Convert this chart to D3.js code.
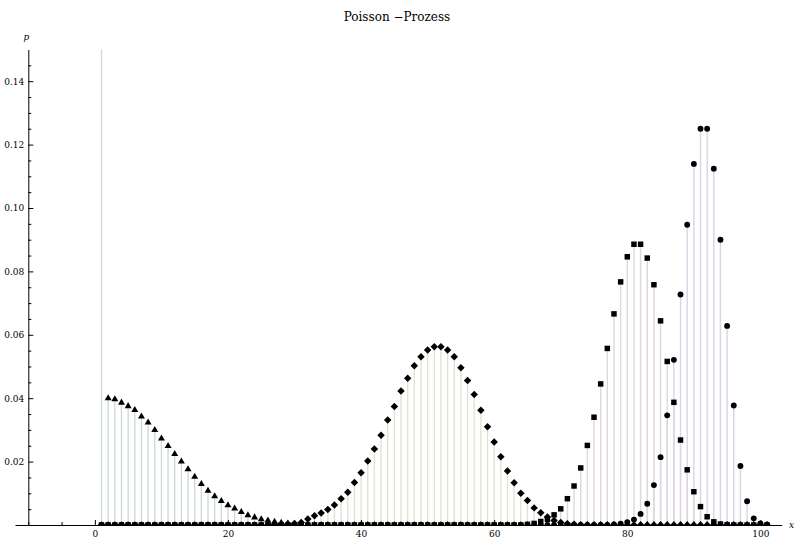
<!DOCTYPE html>
<html>
<head>
<meta charset="utf-8">
<script src="https://cdn.jsdelivr.net/npm/d3@7"></script>
<style>
  body { margin: 0; background: #fff; }
  .axis path, .axis line { stroke: #000; }
  .stem { stroke-width: 1.4; }
</style>
</head>
<body>
<div id="chart"></div>
<script>
'use strict';

// Support of the distributions: markers are drawn at every integer k in [kMin, kMax]
var kMin = 1;
var kMax = 101;

// Each series: first k, then p values (k outside the list sits on zero)
var triStart = 1;
var triP = [0.16, 0.0400, 0.0397, 0.0386, 0.0375, 0.0363, 0.0342, 0.0323, 0.0300, 0.0273,
  0.0249, 0.0224, 0.0200, 0.0176, 0.0152, 0.0129, 0.0108, 0.0091, 0.0076, 0.0062,
  0.0052, 0.0041, 0.0031, 0.0024, 0.0018, 0.0014, 0.0010, 0.0007, 0.0005, 0.0004,
  0.0003, 0.0002, 0.0001];

var diaStart = 27;
var diaP = [0.0001, 0.0002, 0.0003, 0.0005, 0.0008, 0.0019, 0.0029, 0.0038, 0.0049, 0.0063,
  0.0083, 0.0103, 0.0134, 0.0165, 0.0202, 0.0240, 0.0283, 0.0331, 0.0374, 0.0423,
  0.0463, 0.0502, 0.0531, 0.0552, 0.0562, 0.0562, 0.0552, 0.0531, 0.0496, 0.0456,
  0.0412, 0.0362, 0.0310, 0.0262, 0.0215, 0.0170, 0.0133, 0.0100, 0.0077, 0.0054,
  0.0039, 0.0025, 0.0014, 0.0008, 0.0004, 0.0002];

var sqStart = 65;
var sqP = [0.0002, 0.0005, 0.0011, 0.0018, 0.0032, 0.0051, 0.0083, 0.0123, 0.0180, 0.0251,
  0.0340, 0.0445, 0.0557, 0.0666, 0.0767, 0.0846, 0.0886, 0.0886, 0.0842, 0.0758,
  0.0644, 0.0516, 0.0387, 0.0268, 0.0174, 0.0105, 0.0058, 0.0026, 0.0010, 0.0003,
  0.0001];

var circStart = 78;
var circP = [0.0002, 0.0004, 0.0009, 0.0017, 0.0035, 0.0067, 0.0126, 0.0214, 0.0346, 0.0521,
  0.0727, 0.0947, 0.1139, 0.1250, 0.1250, 0.1124, 0.0900, 0.0628, 0.0377, 0.0186,
  0.0075, 0.0021, 0.0005, 0.0001];

// Axis ticks and labels
var xMajor = [0, 20, 40, 60, 80, 100];
var xMinor = [-10, -5, 5, 10, 15, 25, 30, 35, 45, 50, 55, 65, 70, 75, 85, 90, 95];
var yMajor = [0.02, 0.04, 0.06, 0.08, 0.10, 0.12, 0.14];
var yMinor = [0.005, 0.01, 0.015, 0.025, 0.03, 0.035, 0.045, 0.05, 0.055, 0.065, 0.07, 0.075,
  0.085, 0.09, 0.095, 0.105, 0.11, 0.115, 0.125, 0.13, 0.135, 0.145];
var titleText = 'Poisson \u2212Prozess';
var xLabel = 'x';
var yLabel = 'p';

// Layout
var width = 795;
var height = 542;
var plotLeft = 15, plotRight = 781.7, plotTop = 49.5, plotBottom = 525;
var serif = "'DejaVu Serif', serif";

var x = d3.scaleLinear().domain([-12, 103.2]).range([plotLeft, plotRight]);
var y = d3.scaleLinear().domain([0, 0.15]).range([plotBottom, plotTop]);

function fullSeries(start, values) {
  var out = [];
  for (var k = kMin; k <= kMax; k++) {
    var i = k - start;
    out.push([k, (i >= 0 && i < values.length) ? values[i] : 0]);
  }
  return out;
}

var series = [
  {id: 'circ', data: fullSeries(circStart, circP), stem: '#d6d5e6',
    symbol: d3.symbol().type(d3.symbolCircle).size(27), rotate: 0},
  {id: 'sq', data: fullSeries(sqStart, sqP), stem: '#e0d6df',
    symbol: d3.symbol().type(d3.symbolSquare).size(30), rotate: 0},
  {id: 'dia', data: fullSeries(diaStart, diaP), stem: '#e4e2d2',
    symbol: d3.symbol().type(d3.symbolSquare).size(28), rotate: 45},
  {id: 'tri', data: fullSeries(triStart, triP), stem: '#cfdbd6',
    symbol: d3.symbol().type(d3.symbolTriangle).size(21), rotate: 0}
];

var svg = d3.select('#chart').append('svg')
  .attr('width', width)
  .attr('height', height)
  .style('font-family', serif);

svg.append('defs').append('clipPath')
  .attr('id', 'plot-clip')
  .append('rect')
  .attr('x', plotLeft)
  .attr('y', plotTop)
  .attr('width', plotRight - plotLeft)
  .attr('height', plotBottom - plotTop);

var plot = svg.append('g').attr('clip-path', 'url(#plot-clip)');

// Stems (filling to the axis)
series.forEach(function(s) {
  plot.append('g')
    .attr('class', 'stems')
    .selectAll('line')
    .data(s.data)
    .enter().append('line')
    .attr('class', 'stem')
    .attr('x1', function(d) { return x(d[0]); })
    .attr('x2', function(d) { return x(d[0]); })
    .attr('y1', y(0))
    .attr('y2', function(d) { return y(d[1]); })
    .style('stroke', s.stem);
});

// Axes
var xAxisMinor = d3.axisBottom(x).tickValues(xMinor).tickSizeInner(-3).tickSizeOuter(0).tickFormat('');
var xAxis = d3.axisBottom(x).tickValues(xMajor).tickSizeInner(-5).tickSizeOuter(0).tickPadding(6)
  .tickFormat(d3.format('d'));
var yAxisMinor = d3.axisLeft(y).tickValues(yMinor).tickSizeInner(-3).tickSizeOuter(0).tickFormat('');
var yAxis = d3.axisLeft(y).tickValues(yMajor).tickSizeInner(-5).tickSizeOuter(0).tickPadding(4)
  .tickFormat(d3.format('.2f'));

var gx = svg.append('g')
  .attr('class', 'x axis')
  .attr('transform', 'translate(0,' + y(0) + ')');
gx.call(xAxis);
gx.append('g').call(xAxisMinor).select('.domain').remove();

var gy = svg.append('g')
  .attr('class', 'y axis')
  .attr('transform', 'translate(' + x(-10) + ',0)');
gy.call(yAxis);
gy.append('g').call(yAxisMinor).select('.domain').remove();

svg.selectAll('.axis').attr('font-family', null).attr('font-size', null)
  .style('font-family', serif).style('font-size', '9px');
svg.selectAll('.axis line').attr('stroke-width', 1);
svg.selectAll('.axis .domain').attr('stroke-width', 1);

// Markers
series.forEach(function(s) {
  plot.append('g')
    .attr('class', 'markers')
    .selectAll('path')
    .data(s.data)
    .enter().append('path')
    .attr('d', s.symbol())
    .attr('transform', function(d) {
      return 'translate(' + x(d[0]) + ',' + y(d[1]) + ') rotate(' + s.rotate + ')';
    })
    .style('fill', '#000');
});

// Title and axis labels
svg.append('text')
  .attr('x', 397)
  .attr('y', 21)
  .attr('text-anchor', 'middle')
  .style('font-size', '12px')
  .text(titleText);

svg.append('text')
  .attr('x', x(-10) - 2)
  .attr('y', 40)
  .attr('text-anchor', 'middle')
  .style('font-size', '9px')
  .style('font-style', 'italic')
  .text(yLabel);

svg.append('text')
  .attr('x', 789)
  .attr('y', 528)
  .style('font-size', '9px')
  .style('font-style', 'italic')
  .text(xLabel);
</script>
</body>
</html>
